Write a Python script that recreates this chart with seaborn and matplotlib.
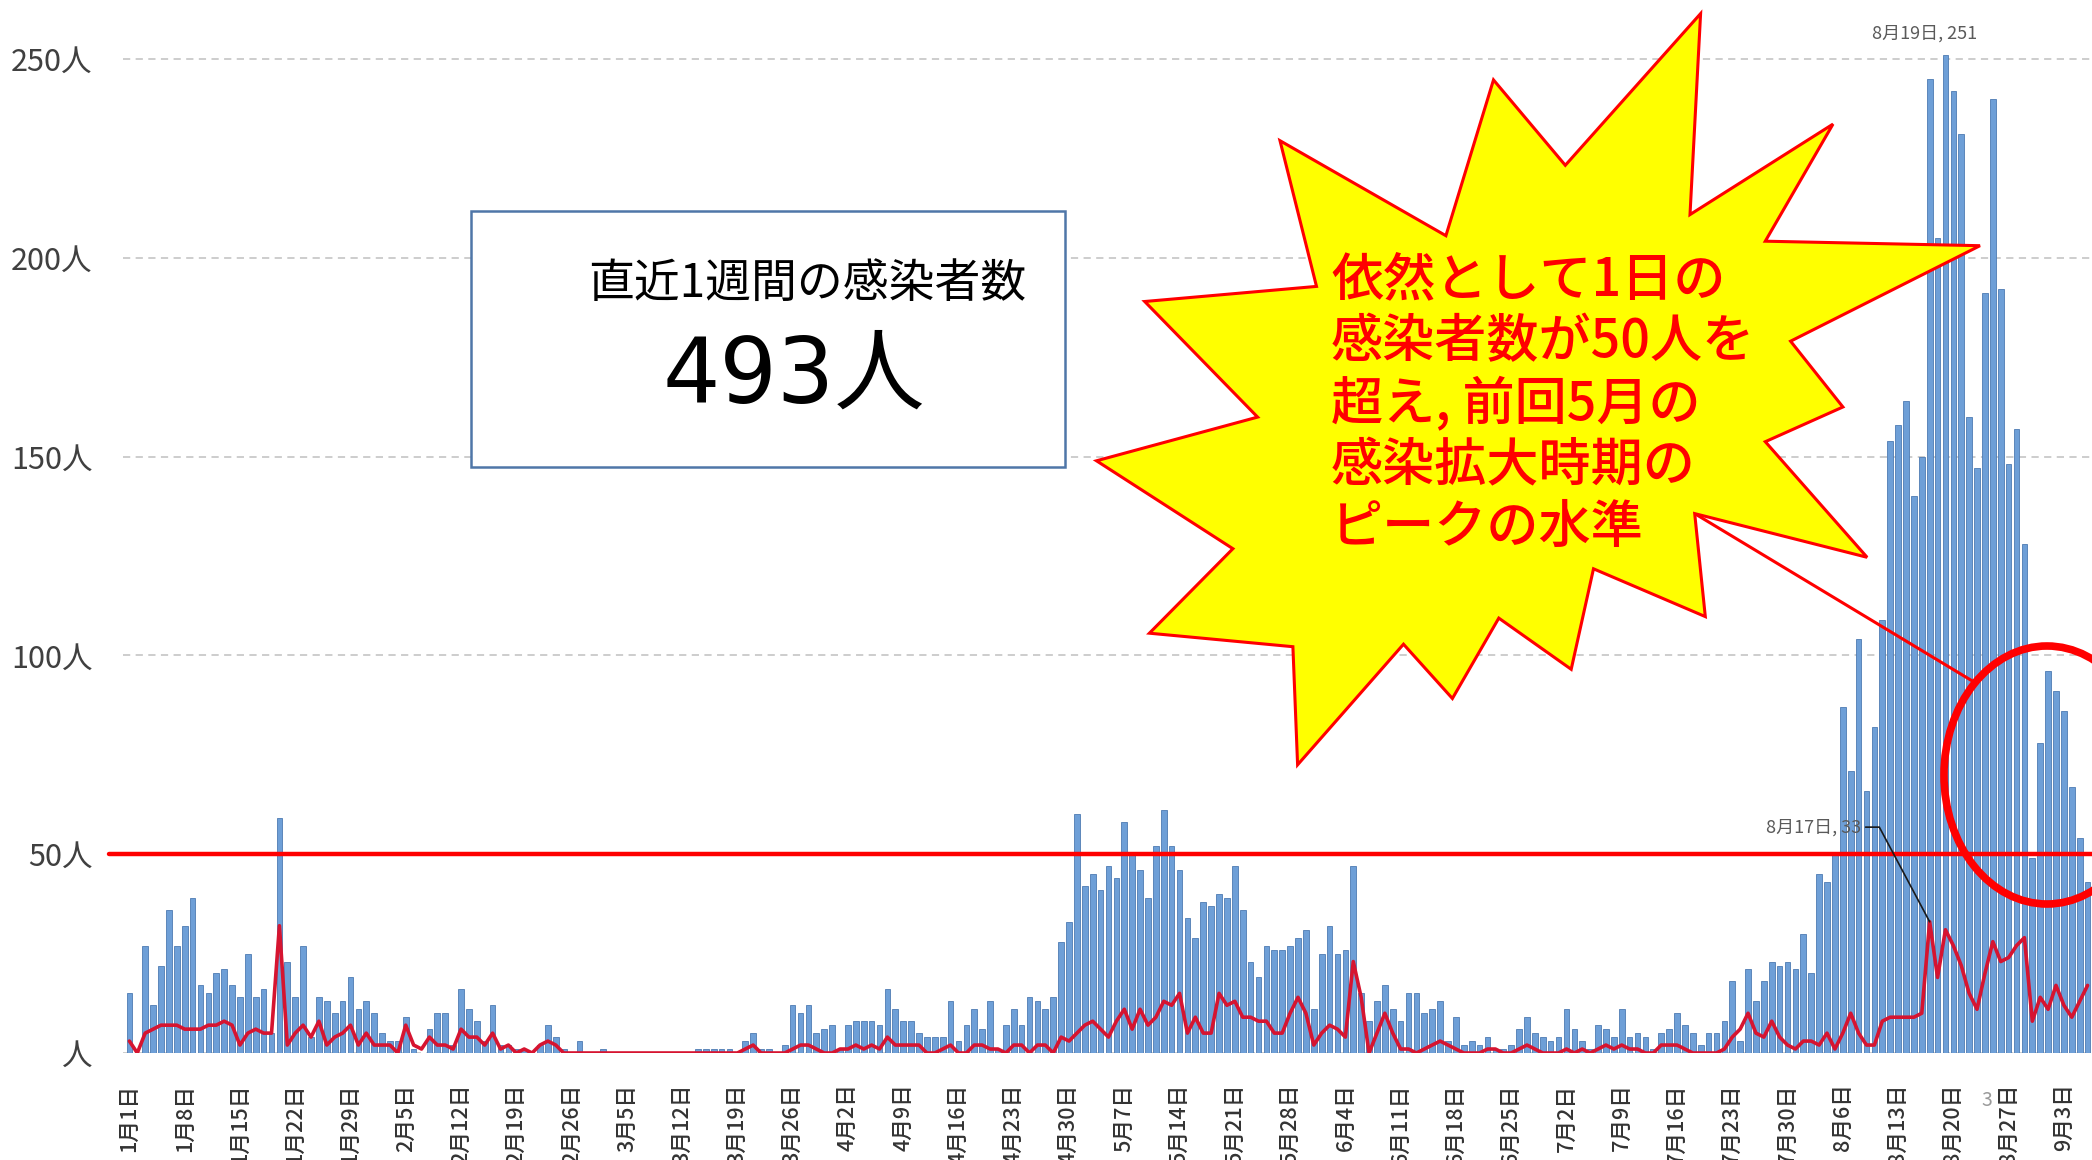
import numpy as np
import pandas as pd
import matplotlib
matplotlib.use("Agg")
import matplotlib.pyplot as plt
import seaborn as sns
from matplotlib.patches import Polygon, Rectangle, Ellipse
from matplotlib.lines import Line2D

# ---------------- data ----------------
START_DATE = "2021-01-01"

cases_jan = [15, 0, 27, 12, 22, 36, 27, 32, 39, 17, 15, 20, 21, 17, 14, 25, 14, 16, 5, 59,
             23, 14, 27, 4, 14, 13, 10, 13, 19, 11, 13]
cases_feb = [10, 5, 3, 3, 9, 1, 0, 6, 10, 10, 2, 16, 11, 8, 3, 12, 2, 2, 1, 1,
             0, 2, 7, 4, 1, 0, 3, 0]
cases_mar = [0, 1, 0, 0, 0, 0, 0, 0, 0, 0, 0, 0, 0, 1, 1, 1, 1, 1, 0, 3,
             5, 1, 1, 0, 2, 12, 10, 12, 5, 6, 7]
cases_apr = [1, 7, 8, 8, 8, 7, 16, 11, 8, 8, 5, 4, 4, 4, 13, 3, 7, 11, 6, 13,
             1, 7, 11, 7, 14, 13, 11, 14, 28, 33]
cases_may = [60, 42, 45, 41, 47, 44, 58, 50, 46, 39, 52, 61, 52, 46, 34, 29, 38, 37, 40, 39,
             47, 36, 23, 19, 27, 26, 26, 27, 29, 31, 11]
cases_jun = [25, 32, 25, 26, 47, 15, 8, 13, 17, 11, 8, 15, 15, 10, 11, 13, 3, 9, 2, 3,
             2, 4, 1, 1, 2, 6, 9, 5, 4, 3]
cases_jul = [4, 11, 6, 3, 1, 7, 6, 4, 11, 4, 5, 4, 1, 5, 6, 10, 7, 5, 2, 5,
             5, 8, 18, 3, 21, 13, 18, 23, 22, 23, 21]
cases_aug = [30, 20, 45, 43, 50, 87, 71, 104, 66, 82, 109, 154, 158, 164, 140, 150, 245, 205, 251, 242,
             231, 160, 147, 191, 240, 192, 148, 157, 128, 49, 78]
cases_sep = [96, 91, 86, 67, 54, 43]

red_jan = [3, 0, 5, 6, 7, 7, 7, 6, 6, 6, 7, 7, 8, 7, 2, 5, 6, 5, 5, 32,
           2, 5, 7, 4, 8, 2, 4, 5, 7, 2, 5]
red_feb = [2, 2, 2, 0, 7, 2, 1, 4, 2, 2, 1, 6, 4, 4, 2, 5, 1, 2, 0, 1,
           0, 2, 3, 2, 0, 0, 0, 0]
red_mar = [0, 0, 0, 0, 0, 0, 0, 0, 0, 0, 0, 0, 0, 0, 0, 0, 0, 0, 0, 1,
           2, 0, 0, 0, 0, 1, 2, 2, 1, 0, 0]
red_apr = [1, 1, 2, 1, 2, 1, 4, 2, 2, 2, 2, 0, 0, 1, 2, 0, 0, 2, 2, 1,
           1, 0, 2, 2, 0, 2, 2, 0, 4, 3]
red_may = [5, 7, 8, 6, 4, 8, 11, 6, 11, 7, 9, 13, 12, 15, 5, 9, 5, 5, 15, 12,
           13, 9, 9, 8, 8, 5, 5, 10, 14, 10, 2]
red_jun = [5, 7, 6, 4, 23, 14, 0, 5, 10, 5, 1, 1, 0, 1, 2, 3, 2, 1, 0, 0,
           0, 1, 1, 0, 0, 1, 2, 1, 0, 0]
red_jul = [0, 1, 0, 1, 0, 1, 2, 1, 2, 1, 1, 0, 0, 2, 2, 2, 1, 0, 0, 0,
           0, 1, 4, 6, 10, 5, 4, 8, 4, 2, 1]
red_aug = [3, 3, 2, 5, 1, 5, 10, 5, 2, 2, 8, 9, 9, 9, 9, 10, 33, 19, 31, 27,
           22, 15, 11, 20, 28, 23, 24, 27, 29, 8, 14]
red_sep = [11, 17, 12, 9, 13, 17]

y_ticks = [0, 50, 100, 150, 200, 250]
y_tick_labels = ["人", "50人", "100人", "150人", "200人", "250人"]
THRESHOLD = 50
WEEKLY_TOTAL = 493
box_title = "直近1週間の感染者数"
star_lines = ["依然として1日の", "感染者数が50人を", "超え, 前回5月の", "感染拡大時期の", "ピークの水準"]
peak_date_label = "8月19日"
red_peak_date_label = "8月17日"

cases = cases_jan + cases_feb + cases_mar + cases_apr + cases_may + cases_jun + cases_jul + cases_aug + cases_sep
red = red_jan + red_feb + red_mar + red_apr + red_may + red_jun + red_jul + red_aug + red_sep
n = len(cases)
dates = pd.date_range(START_DATE, periods=n, freq="D")
df = pd.DataFrame({"day": np.arange(n), "cases": cases, "red": red})
tick_pos = list(range(0, n, 7))
tick_labels = [f"{dates[i].month}月{dates[i].day}日" for i in tick_pos]

# ---------------- figure ----------------
sns.set_style("white")
plt.rcParams["font.family"] = ["Noto Sans CJK JP", "DejaVu Sans"]

W, H = 2092, 1160
fig = plt.figure(figsize=(W / 100, H / 100), dpi=100)
ax = fig.add_axes([123 / W, (H - 1053) / H, (W - 123) / W, 1053 / H])

BAR = "#6e9fd7"
EDGE = "#4d7bb3"
RED = "#d61430"

sns.barplot(data=df, x="day", y="cases", native_scale=True, width=0.72, color=BAR,
            saturation=1, edgecolor=EDGE, linewidth=0.6, errorbar=None, ax=ax, zorder=2)
sns.lineplot(data=df, x="day", y="red", color=RED, lw=2.6, errorbar=None, ax=ax, zorder=3)

ax.set_xlim(-0.81, 248.56)
ax.set_ylim(0, 264.8)
for s in ax.spines.values():
    s.set_visible(False)
ax.set_xlabel("")
ax.set_ylabel("")

ax.set_yticks(y_ticks)
ax.set_yticklabels(y_tick_labels, fontsize=22, color="#404040")
ax.yaxis.grid(True, color="#c9c9c9", linestyle=(0, (4, 3)), lw=1.3)
ax.xaxis.grid(False)
ax.set_axisbelow(True)

ax.set_xticks(tick_pos)
ax.set_xticklabels(tick_labels, rotation=90, fontsize=15.6, color="#333333", fontweight="medium")
ax.tick_params(axis="both", length=0)
ax.tick_params(axis="x", pad=22)
ax.tick_params(axis="y", pad=22)

# threshold line
ax.axhline(THRESHOLD, xmin=(109 - 123) / (W - 123), xmax=1, color="#ff0000", lw=3.2,
           clip_on=False, zorder=4)

# data labels
peak_i = int(np.argmax(cases))
ax.text(peak_i - 2.7, cases[peak_i] + 3, f"{peak_date_label}, {cases[peak_i]}",
        ha="center", va="bottom", fontsize=13, color="#5a5a5a", zorder=5)
red_i = int(np.argmax(red))
ax.annotate(f"{red_peak_date_label}, {red[red_i]}", xy=(red_i, red[red_i]),
            xytext=(219.3, 56.8), ha="right", va="center", fontsize=13, color="#5a5a5a",
            zorder=5,
            arrowprops=dict(arrowstyle="-", color="#1a1a1a", lw=1.2, shrinkA=1, shrinkB=0,
                            relpos=(1, 0.5),
                            connectionstyle="angle,angleA=0,angleB=118,rad=0"))
fig.text(1987 / W, 1 - 1100 / H, "3", fontsize=14, color="#9a9a9a", ha="center", va="center",
         zorder=6)

# ---------------- overlay shapes ----------------
def fx(x):
    return x / W


def fy(y):
    return 1 - y / H


star_px = [(1700.6, 13.6), (1690.0, 214.6), (1833.0, 124.1), (1765.3, 241.2), (1980.0, 245.7),
           (1790.6, 341.2), (1842.9, 407.0), (1765.3, 441.7), (1867.1, 557.3), (1694.7, 513.6),
           (1705.3, 616.6), (1593.5, 568.8), (1571.2, 669.3), (1498.8, 618.1), (1452.4, 698.5),
           (1403.5, 644.2), (1297.6, 764.8), (1292.9, 646.7), (1149.4, 633.2), (1232.9, 548.7),
           (1096.5, 460.8), (1257.6, 417.1), (1144.7, 301.5), (1316.5, 286.4), (1280.0, 140.7),
           (1445.9, 235.7), (1493.5, 79.9), (1565.3, 165.3)]

fig.add_artist(Line2D([fx(1694.7), fx(1974)], [fy(513.6), fy(682)], transform=fig.transFigure,
                      color="#ff0000", lw=2.2, zorder=9))
fig.add_artist(Ellipse((fx(2047), fy(775)), 206 / W, 258 / H, transform=fig.transFigure,
                       fill=False, edgecolor="#ff0000", lw=5.5, zorder=9))
fig.add_artist(Polygon([(fx(x), fy(y)) for x, y in star_px], closed=True,
                       transform=fig.transFigure, facecolor="#ffff00", edgecolor="#ff0000",
                       lw=2.2, zorder=10))
for k, line in enumerate(star_lines):
    fig.text(fx(1331), fy(280 + 62 * k), line, ha="left", va="center", color="#ff0000",
             fontsize=37.5, fontweight="medium", zorder=11)

fig.add_artist(Rectangle((fx(471), fy(467)), (1065 - 471) / W, (467 - 211) / H,
                         transform=fig.transFigure, facecolor="white", edgecolor="#4f76a8",
                         lw=1.8, zorder=9))
fig.text(fx(807), fy(284), box_title, ha="center", va="center", fontsize=33, color="black",
         zorder=11)
fig.text(fx(794), fy(378), f"{WEEKLY_TOTAL}人", ha="center", va="center", fontsize=65,
         color="black", family=["DejaVu Sans", "Noto Sans CJK JP"], zorder=11)

fig.savefig("out.png", dpi=100)
